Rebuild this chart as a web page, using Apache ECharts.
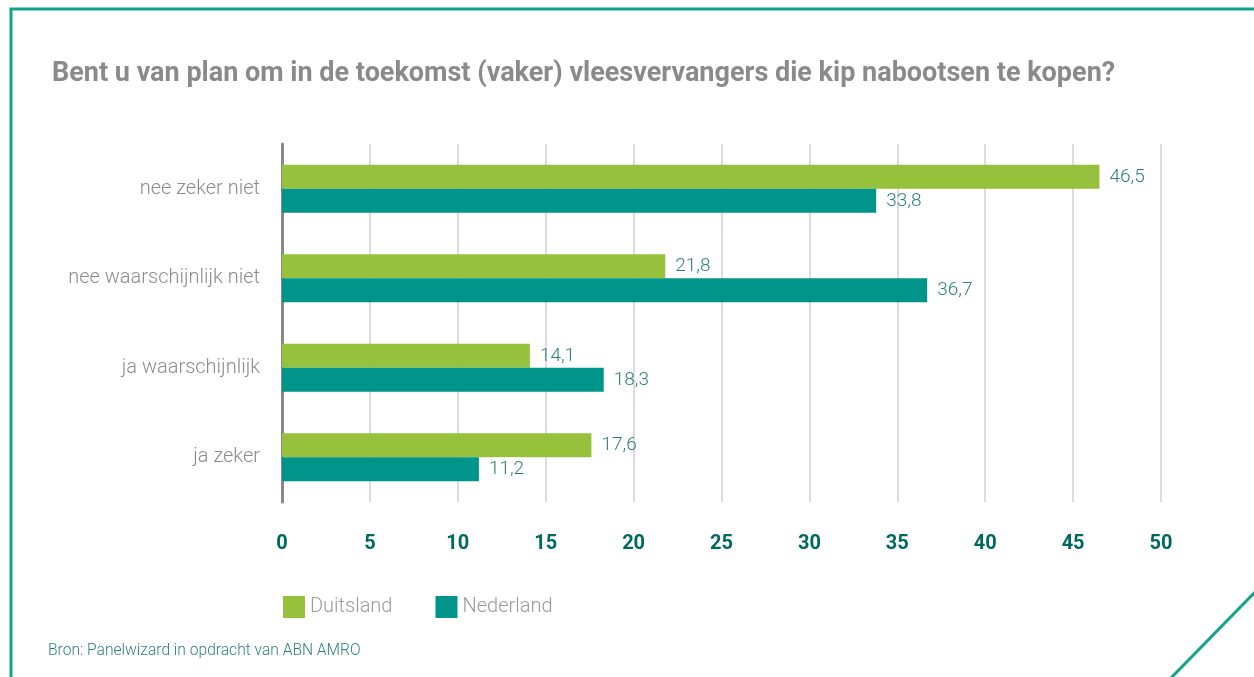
<!DOCTYPE html>
<html>
<head>
<meta charset="utf-8">
<script src="https://cdn.jsdelivr.net/npm/echarts@6/dist/echarts.min.js"></script>
<style>
  html, body { margin: 0; padding: 0; background: #fff; }
  #main { width: 1254px; height: 677px; }
</style>
</head>
<body>
<div id="main"></div>
<script>
let myChart = echarts.init(document.getElementById('main'))

const font = 'Roboto, sans-serif'
const colors = {
    green: '#95c13d',
    teal: '#00958a',
    frame: '#13a38b',
    title: '#8a8a8a',
    label: '#2d7f78',
    tick: '#00695e'
}

// data
const categories = ['nee zeker niet', 'nee waarschijnlijk niet', 'ja waarschijnlijk', 'ja zeker']
const duitsland = [46.5, 21.8, 14.1, 17.6]
const nederland = [33.8, 36.7, 18.3, 11.2]

const barLabel = {
    show: true,
    position: 'right',
    distance: 10,
    color: colors.label,
    fontFamily: font,
    fontWeight: 300,
    fontSize: 19,
    formatter: p => String(p.value).replace('.', ',')
}

let option = {
    backgroundColor: '#fff',
    title: {
        text: 'Bent u van plan om in de toekomst (vaker) vleesvervangers die kip nabootsen te kopen?',
        left: 47,
        top: 56,
        textStyle: {
            color: colors.title,
            fontFamily: font,
            fontWeight: 'bold',
            fontSize: 27
        }
    },
    legend: {
        left: 278,
        top: 591,
        icon: 'rect',
        itemWidth: 22,
        itemHeight: 22,
        itemGap: 43,
        textStyle: {color: '#9a9a9a', fontFamily: font, fontWeight: 300, fontSize: 20},
        data: ['Duitsland', 'Nederland']
    },
    grid: {left: 282, right: 93, top: 144, height: 358},
    xAxis: {
        type: 'value',
        min: 0,
        max: 50,
        interval: 5,
        axisLine: {show: false},
        axisTick: {show: false},
        splitLine: {lineStyle: {color: '#dcdcdc', width: 2}},
        axisLabel: {
            margin: 32,
            color: colors.tick,
            fontFamily: font,
            fontWeight: 'bold',
            fontSize: 20
        }
    },
    yAxis: {
        type: 'category',
        inverse: true,
        data: categories,
        axisLine: {lineStyle: {color: '#888', width: 3}},
        axisTick: {show: false},
        axisLabel: {
            margin: 22,
            color: '#8c8c8c',
            fontFamily: font,
            fontWeight: 300,
            fontSize: 20
        }
    },
    series: [
        {
            name: 'Duitsland',
            type: 'bar',
            data: duitsland,
            barWidth: 24,
            barGap: '0%',
            itemStyle: {color: colors.green},
            label: barLabel
        },
        {
            name: 'Nederland',
            type: 'bar',
            data: nederland,
            barWidth: 24,
            barGap: '0%',
            itemStyle: {color: colors.teal},
            label: barLabel
        }
    ],
    graphic: [
        {
            type: 'polyline',
            shape: {points: [[11, 677], [11, 9], [1260, 9]]},
            style: {stroke: colors.frame, lineWidth: 3, fill: null}
        },
        {
            type: 'line',
            shape: {x1: 1170, y1: 679, x2: 1256, y2: 591},
            style: {stroke: colors.frame, lineWidth: 3}
        },
        {
            type: 'text',
            left: 48,
            top: 643,
            style: {
                text: 'Bron: Panelwizard in opdracht van ABN AMRO',
                fill: colors.label,
                font: '300 15.6px ' + font
            }
        }
    ]
}

myChart.setOption(option)
</script>
</body>
</html>
